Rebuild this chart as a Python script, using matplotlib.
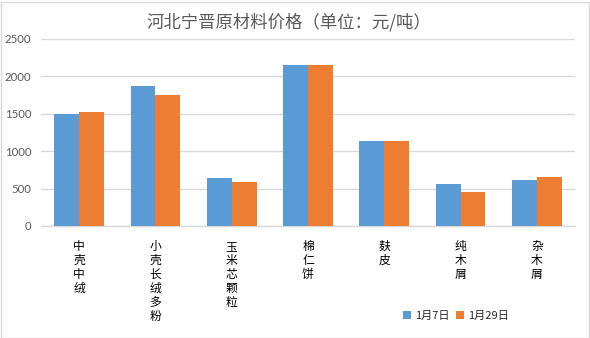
import matplotlib
matplotlib.use("Agg")
import matplotlib.pyplot as plt
import numpy as np
from matplotlib.patches import Rectangle

plt.rcParams['font.family'] = ['Noto Sans CJK SC', 'DejaVu Sans']

categories = ["中壳中绒", "小壳长绒多粉", "玉米芯颗粒", "棉仁饼", "麸皮", "纯木屑", "杂木屑"]
series_names = ["1月7日", "1月29日"]
jan7 = [1500, 1870, 640, 2150, 1130, 560, 610]
jan29 = [1520, 1750, 585, 2150, 1130, 450, 650]
yticks = [0, 500, 1000, 1500, 2000, 2500]
title = "河北宁晋原材料价格（单位：元/吨）"

blue = "#5B9BD5"
orange = "#ED7D31"
grey = "#595959"

W, H = 590, 338
fig = plt.figure(figsize=(W / 100, H / 100), dpi=100)
ax = fig.add_axes([41 / W, 1 - 226 / H, (575 - 41) / W, (226 - 38.7) / H])

x = np.arange(len(categories))
bw = 0.325
ax.bar(x - bw / 2, jan7, bw, color=blue, label=series_names[0], zorder=3)
ax.bar(x + bw / 2, jan29, bw, color=orange, label=series_names[1], zorder=3)

ax.set_xlim(-0.5, len(categories) - 0.5)
ax.set_ylim(0, 2500)
ax.set_yticks(yticks)
ax.set_yticklabels([str(v) for v in yticks], fontsize=8.2, color=grey, family=['Lato', 'DejaVu Sans'])
ax.yaxis.grid(True, color="#D9D9D9", linewidth=1, zorder=0)
ax.tick_params(axis='y', length=0, pad=7)
ax.tick_params(axis='x', length=0)
ax.set_xticks(x)
ax.set_xticklabels(["\n".join(c) for c in categories], fontsize=8.5, color="#000000",
                   linespacing=1.1, va='top')
ax.tick_params(axis='x', pad=10)
for s in ["top", "right", "left"]:
    ax.spines[s].set_visible(False)
ax.spines["bottom"].set_color("#D9D9D9")
ax.spines["bottom"].set_linewidth(1)

fig.text(289 / W, 1 - 22 / H, title, ha='center', va='center', fontsize=12.5, color=grey)

leg = fig.legend(loc='center', bbox_to_anchor=(456 / W, 1 - 316 / H), ncol=2, frameon=False,
                 fontsize=8, handlelength=0.72, handleheight=0.72, handletextpad=0.4,
                 columnspacing=0.5)
for t in leg.get_texts():
    t.set_color("#262626")

fig.patches.append(Rectangle((0.5 / W, 0.5 / H), (W - 2) / W, (H - 2) / H,
                             transform=fig.transFigure, fill=False,
                             edgecolor="#D9D9D9", linewidth=1))

fig.savefig("out.png", dpi=100, facecolor="white")
